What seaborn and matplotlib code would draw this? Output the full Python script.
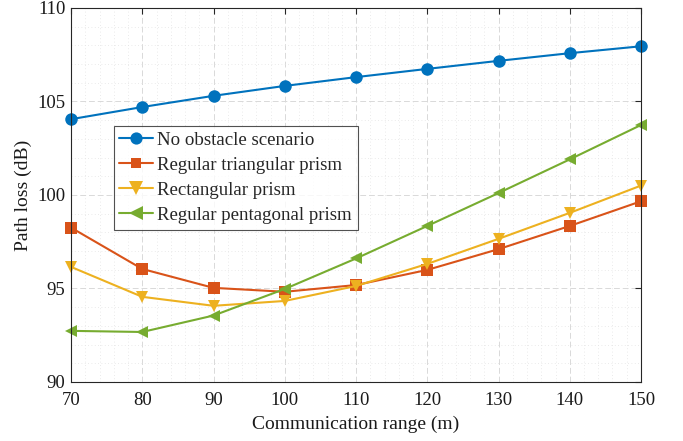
import matplotlib
matplotlib.use("Agg")
import matplotlib.pyplot as plt
import seaborn as sns
import pandas as pd
from matplotlib.ticker import MultipleLocator

ranges = [70, 80, 90, 100, 110, 120, 130, 140, 150]
no_obstacle = [104.05, 104.7, 105.3, 105.83, 106.3, 106.74, 107.17, 107.58, 107.95]
triangular = [98.25, 96.04, 95.03, 94.82, 95.18, 95.99, 97.1, 98.34, 99.66]
rectangular = [96.15, 94.55, 94.07, 94.33, 95.13, 96.31, 97.65, 99.04, 100.5]
pentagonal = [92.73, 92.67, 93.55, 94.97, 96.6, 98.34, 100.1, 101.9, 103.74]
series_names = ["No obstacle scenario", "Regular triangular prism",
                "Rectangular prism", "Regular pentagonal prism"]

rows = []
for name, vals in zip(series_names, [no_obstacle, triangular, rectangular, pentagonal]):
    for x, v in zip(ranges, vals):
        rows.append({"range": x, "loss": v, "series": name})
df = pd.DataFrame(rows)

sns.set_style("white")
plt.rcParams["font.family"] = ["Liberation Serif", "DejaVu Serif"]
plt.rcParams["mathtext.fontset"] = "stix"

fig = plt.figure(figsize=(6.83, 4.41), dpi=100)
ax = fig.add_axes([0.104, 0.134, 0.8345, 0.848])

colors = ["#0072BD", "#D95319", "#EDB120", "#77AC30"]
markers = ["o", "s", "v", "<"]
msizes = [8.8, 7.4, 10.0, 10.0]
sns.lineplot(data=df, x="range", y="loss", hue="series", style="series",
             palette=dict(zip(series_names, colors)),
             markers=dict(zip(series_names, markers)),
             dashes=False, markersize=9, linewidth=1.5,
             markeredgewidth=0, ax=ax)

for line in ax.lines:
    line.set_clip_on(False)
    lbl = line.get_label()
    if lbl in series_names:
        line.set_markersize(msizes[series_names.index(lbl)])

ax.set_xlim(70, 150)
ax.set_ylim(90, 110)
ax.xaxis.set_major_locator(MultipleLocator(10))
ax.yaxis.set_major_locator(MultipleLocator(5))
ax.xaxis.set_minor_locator(MultipleLocator(2))
ax.yaxis.set_minor_locator(MultipleLocator(1))
ax.grid(which="major", color="#d9d9d9", linestyle=(0, (6, 3)), linewidth=0.7)
ax.grid(which="minor", color="#e3e3e3", linestyle=(0, (1, 3)), linewidth=0.6)
ax.set_axisbelow(True)
for s in ax.spines.values():
    s.set_color("#262626")
    s.set_linewidth(0.8)
ax.tick_params(axis="both", which="major", direction="in", length=4, width=0.8,
               labelsize=13.5, colors="#262626", labelcolor="#1a1a1a",
               top=True, right=True)
ax.tick_params(axis="x", which="major", pad=7)
ax.tick_params(axis="y", which="major", pad=4)
ax.tick_params(which="minor", length=0)
ax.set_xlabel("Communication range (m)", fontsize=14, color="#1a1a1a", labelpad=5)
ax.set_ylabel("Path loss (dB)", fontsize=14, color="#1a1a1a", labelpad=4)

handles, labels = ax.get_legend_handles_labels()
for h in handles:
    lbl = h.get_label()
    if lbl in series_names:
        h.set_markersize(msizes[series_names.index(lbl)])
leg = ax.legend(handles, labels, loc="upper left", bbox_to_anchor=(0.075, 0.685),
                fontsize=13.6, frameon=True, fancybox=False, edgecolor="#262626",
                borderpad=0.3, labelspacing=0.42, handlelength=1.75,
                handletextpad=0.25, borderaxespad=0)
leg.get_frame().set_linewidth(0.8)

fig.savefig("out.png", dpi=100)
